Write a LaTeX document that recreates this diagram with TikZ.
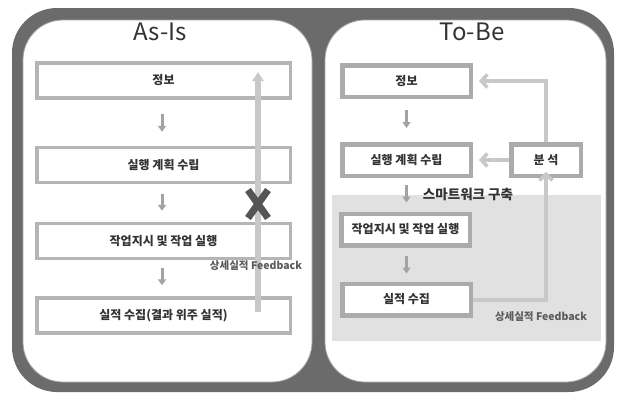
\documentclass[tikz,border=0pt]{standalone}
\usepackage{fontspec}
\setmainfont{Noto Sans CJK KR}
\usetikzlibrary{arrows.meta}
\definecolor{framedark}{HTML}{6B6B6B}
\definecolor{boxgray}{HTML}{B5B5B5}
\definecolor{boxgrayb}{HTML}{ABABAB}
\definecolor{fbgray}{HTML}{C8C8C8}
\definecolor{downgray}{HTML}{A3A3A3}
\definecolor{zonegray}{HTML}{E1E1E1}
\definecolor{txt}{HTML}{333333}
\definecolor{xdark}{HTML}{555555}
\tikzset{
  panel/.style={fill=white, draw=gray!70, line width=0.8pt, rounded corners=40pt},
  title/.style={font=\fontsize{24}{26}\selectfont, text=txt},
  lbox/.style={draw=boxgray, line width=3.5pt, fill=white, minimum width=253.5pt, minimum height=35pt, inner sep=0pt, font=\fontsize{12}{14}\selectfont\bfseries, text=txt},
  rbox/.style={draw=boxgrayb, line width=4.5pt, fill=white, minimum width=128.5pt, minimum height=31.5pt, inner sep=0pt, font=\fontsize{12}{14}\selectfont\bfseries, text=txt},
  darr/.style={draw=downgray, line width=3pt, -{Triangle[width=8pt,length=6pt]}},
  fbarr/.style={draw=fbgray, line width=4pt, -{Straight Barb[width=13pt,length=6pt,line width=3.5pt]}},
  fbvert/.style={draw=fbgray, line width=6pt, -{Triangle[width=11pt,length=9pt]}},
  fblabel/.style={font=\fontsize{10.5}{12}\selectfont\bfseries, text=txt!80},
  xmark/.style={draw=xdark, line width=7pt},
}
\begin{document}
\begin{tikzpicture}[x=1pt,y=-1pt]
\useasboundingbox (0,0) rectangle (618,394);
% frame
\fill[framedark, rounded corners=45pt] (12,8) rectangle (614,392);
\draw[panel] (23,20) rectangle (312,382);
\draw[panel] (325,20) rectangle (606,382);
% titles
\node[title] (tasis) at (160,32) {As-Is};
\node[title] (ttobe) at (472,32) {To-Be};
% ---- As-Is ----
\node[lbox] (a1) at (163.5,80.5) {정보};
\node[lbox] (a2) at (163.5,165) {실행 계획 수립};
\node[lbox] (a3) at (163.5,241) {작업지시 및 작업 실행};
\node[lbox] (a4) at (163.5,315.5) {실적 수집(결과 위주 실적)};
\draw[darr, shorten <=14pt, shorten >=14pt] ([xshift=-1.5pt]a1.south) -- ([xshift=-1.5pt]a2.north);
\draw[darr, shorten <=9.5pt, shorten >=11pt] ([xshift=-1.5pt]a2.south) -- ([xshift=-1.5pt]a3.north);
\draw[darr, shorten <=7.5pt, shorten >=11pt] ([xshift=-1.5pt]a3.south) -- ([xshift=-1.5pt]a4.north);
\coordinate (fbs) at (258,312);
\coordinate (fbe) at (258,72);
\draw[fbvert] (fbs) -- (fbe);
\coordinate (xc) at (258,204);
\draw[xmark] ([shift={(-10,-14)}]xc) -- ([shift={(10,14)}]xc);
\draw[xmark] ([shift={(10,-14)}]xc) -- ([shift={(-10,14)}]xc);
\node[fblabel] (lfb) at (256,266) {상세실적 Feedback};
% ---- To-Be ----
\fill[zonegray] (332,195) rectangle (601,341);
\node[rbox] (b1) at (406.5,81) {정보};
\node[rbox] (b2) at (406.5,160) {실행 계획 수립};
\node[rbox, minimum width=69.5pt] (bs) at (546,160) {분 석};
\node[rbox] (b3) at (405.5,229.5) {작업지시 및 작업 실행};
\node[rbox] (b4) at (406.5,299.5) {실적 수집};
\draw[darr, shorten <=11pt, shorten >=14pt] (b1.south) -- (b2.north);
\draw[darr, shorten <=7pt, shorten >=9pt] (b2.south) -- ([xshift=1pt]b3.north);
\draw[darr, shorten <=8pt, shorten >=8pt] ([xshift=1pt]b3.south) -- (b4.north);
\node[font=\fontsize{13.5}{15}\selectfont\bfseries, text=txt] (smart) at (468,194) {스마트워크 구축};
\draw[fbarr] (b4.east) -| ([yshift=6pt]bs.south);
\draw[fbarr] (bs.north) |- ([xshift=6pt]b1.east);
\draw[fbarr] (bs.west) -- ([xshift=6pt]b2.east);
\node[fblabel] (rfb) at (541,317) {상세실적 Feedback};
\end{tikzpicture}
\end{document}
